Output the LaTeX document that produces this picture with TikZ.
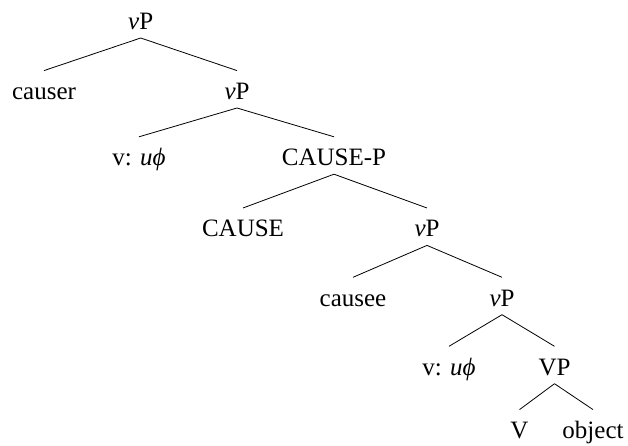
\documentclass[tikz,border=0pt]{standalone}
\usepackage{fontspec}
\setmainfont{Liberation Serif}
\tikzset{
    font=\fontsize{25}{30}\selectfont,
    tree_node/.style={
        inner sep=0pt,
        text height=28.5pt,
        text depth=8.5pt,
        anchor=base
    },
    tree_edge/.style={
        line width=0.8pt
    }
}
\newcommand{\litv}{\textit{v}}

\begin{document}
\begin{tikzpicture}[x=1pt, y=-1pt]
\useasboundingbox (0,0) rectangle (628,446);

% --- Spine of the tree ---
\node[tree_node] (Root) at (140.7,29.3) {\litv P};
\node[tree_node] (Causer) at (44,99.3) {causer};
\node[tree_node] (VP2) at (237,99.3) {\litv P};
\node[tree_node] (Agree1) at (139,165.5) {v: \textit{uϕ}};
\node[tree_node] (CauseP) at (334,165.5) {CAUSE-P};
\node[tree_node] (Cause) at (243,236.7) {CAUSE};
\node[tree_node] (VP3) at (427,236.7) {\litv P};
\node[tree_node] (Causee) at (353,306) {causee};
\node[tree_node] (VP4) at (502,306) {\litv P};
\node[tree_node] (Agree2) at (449,375) {v: \textit{uϕ}};
\node[tree_node] (LexVP) at (554.5,375) {VP};
\node[tree_node] (Verb) at (519.5,438.3) {V};
\node[tree_node] (Object) at (593,438.3) {object};

% --- Branches ---
\draw[tree_edge] (Root.south) -- (Causer.north);
\draw[tree_edge] (Root.south) -- (VP2.north);
\draw[tree_edge] (VP2.south) -- (Agree1.north);
\draw[tree_edge] (VP2.south) -- (CauseP.north);
\draw[tree_edge] (CauseP.south) -- (Cause.north);
\draw[tree_edge] (CauseP.south) -- (VP3.north);
\draw[tree_edge] (VP3.south) -- (Causee.north);
\draw[tree_edge] (VP3.south) -- (VP4.north);
\draw[tree_edge] (VP4.south) -- (Agree2.north);
\draw[tree_edge] (VP4.south) -- (LexVP.north);
\draw[tree_edge] (LexVP.south) -- (Verb.north);
\draw[tree_edge] (LexVP.south) -- (Object.north);

\end{tikzpicture}
\end{document}
